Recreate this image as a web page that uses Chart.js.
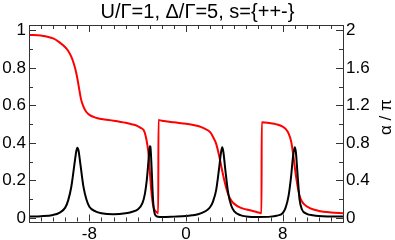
<!DOCTYPE html>
<html><head><meta charset="utf-8">
<script src="https://cdn.jsdelivr.net/npm/chart.js@4"></script>
<style>html,body{margin:0;padding:0;background:#fff}canvas{display:block}</style>
</head><body>
<canvas id="c" width="395" height="240"></canvas>
<script>
const titleText = 'U/Γ=1, Δ/Γ=5, s={++-}';
const rightAxisTitle = 'α / π';
const xTicks = [-8, 0, 8];
const yLeftTicks = [0, 0.2, 0.4, 0.6, 0.8, 1];
const yRightTicks = [0, 0.4, 0.8, 1.2, 1.6, 2];

// black curve (left axis)
const blackX = [-13,-12,-11,-10.5,-10,-9.75,-9.5,-9.25,-9.1,-9.0,-8.9,-8.75,-8.5,-8.25,-8,-7.5,-7,-6,-5,-4.5,-4,-3.6,-3.4,-3.25,-3.1,-3.0,-2.95,-2.85,-2.75,-2.65,-2.5,-2.3,-2,-1,0,0.5,1,1.5,1.75,2,2.25,2.5,2.75,2.9,3.0,3.1,3.25,3.5,3.75,4,4.5,5,6,7,7.5,8,8.25,8.5,8.7,8.85,9.0,9.1,9.25,9.4,9.6,10,10.5,11,12,13];
const blackY = [0.007,0.009,0.016,0.027,0.055,0.095,0.165,0.28,0.35,0.375,0.36,0.29,0.17,0.1,0.06,0.035,0.025,0.02,0.025,0.032,0.045,0.08,0.13,0.2,0.31,0.383,0.38,0.27,0.12,0.04,0.012,0.006,0.005,0.007,0.01,0.014,0.02,0.032,0.042,0.058,0.09,0.15,0.27,0.35,0.377,0.35,0.26,0.13,0.065,0.035,0.015,0.008,0.005,0.007,0.012,0.025,0.055,0.12,0.22,0.32,0.377,0.35,0.22,0.1,0.045,0.022,0.014,0.01,0.008,0.007];

// red curve (right axis, alpha/pi)
const redX = [-13,-12,-11,-10.5,-10,-9.75,-9.5,-9.3,-9.15,-9.0,-8.85,-8.7,-8.5,-8.25,-8,-7.5,-7,-6,-5,-4.5,-4,-3.75,-3.5,-3.35,-3.2,-3.1,-3.0,-2.9,-2.8,-2.7,-2.55,-2.4,-2.30,-2.28,-2,-1,0,0.5,1,1.5,2,2.25,2.5,2.75,3.0,3.25,3.5,3.75,4,4.5,5,5.5,6.0,6.25,6.27,7,7.5,8,8.25,8.5,8.7,8.85,9.0,9.15,9.35,9.5,9.75,10.25,11,12,13];
const redY = [1.952,1.945,1.915,1.875,1.82,1.78,1.72,1.65,1.58,1.49,1.38,1.27,1.19,1.13,1.1,1.07,1.055,1.037,1.015,1.0,0.98,0.96,0.935,0.88,0.78,0.68,0.5,0.33,0.2,0.12,0.075,0.06,0.05,1.045,1.037,1.02,1.005,0.995,0.98,0.955,0.915,0.86,0.79,0.66,0.5,0.36,0.25,0.185,0.15,0.11,0.09,0.075,0.058,0.05,1.02,1.01,0.998,0.975,0.95,0.9,0.82,0.7,0.55,0.41,0.265,0.2,0.15,0.105,0.075,0.058,0.05];

const FONT = 'Liberation Sans, Arial, Helvetica, sans-serif';

const frameTicks = {
  id: 'frameTicks',
  afterDatasetsDraw(chart) {
    const ctx = chart.ctx, a = chart.chartArea;
    const xs = chart.scales.x, yl = chart.scales.y, yr = chart.scales.y2;
    ctx.save();
    ctx.strokeStyle = '#333';
    ctx.lineWidth = 1;
    ctx.strokeRect(Math.round(a.left) + 0.5, Math.round(a.top) + 0.5, Math.round(a.right - a.left), Math.round(a.bottom - a.top));
    ctx.beginPath();
    for (let v = -13; v <= 13; v++) {
      const px = Math.round(xs.getPixelForValue(v)) + 0.5;
      const len = xTicks.includes(v) ? 7 : 4;
      ctx.moveTo(px, a.bottom); ctx.lineTo(px, a.bottom - len);
      ctx.moveTo(px, a.top); ctx.lineTo(px, a.top + len);
    }
    for (let i = 0; i <= 10; i++) {
      const py = Math.round(yl.getPixelForValue(i / 10)) + 0.5;
      const len = i % 2 === 0 ? 7 : 4;
      ctx.moveTo(a.left, py); ctx.lineTo(a.left + len, py);
      const pr = Math.round(yr.getPixelForValue(i * 0.2)) + 0.5;
      ctx.moveTo(a.right, pr); ctx.lineTo(a.right - len, pr);
    }
    ctx.stroke();
    // right axis title, reading bottom to top
    ctx.fillStyle = '#000';
    ctx.font = '17px ' + FONT;
    ctx.textAlign = 'center';
    ctx.textBaseline = 'middle';
    ctx.translate(386, (a.top + a.bottom) / 2 - 6);
    ctx.rotate(-Math.PI / 2);
    ctx.fillText(rightAxisTitle, 0, 0);
    ctx.restore();
  }
};

const fmt = v => String(Math.round(v * 100) / 100);

new Chart(document.getElementById('c'), {
  type: 'line',
  data: {
    datasets: [
      { data: blackX.map((x, i) => ({ x, y: blackY[i] })), yAxisID: 'y', borderColor: '#000', borderWidth: 2, pointRadius: 0, cubicInterpolationMode: 'monotone', fill: false },
      { data: redX.map((x, i) => ({ x, y: redY[i] })), yAxisID: 'y2', borderColor: '#ff0000', borderWidth: 2, pointRadius: 0, cubicInterpolationMode: 'monotone', fill: false }
    ]
  },
  options: {
    responsive: false,
    animation: false,
    events: [],
    layout: { padding: 0 },
    plugins: {
      legend: { display: false },
      tooltip: { enabled: false },
      title: { display: true, text: titleText, color: '#000', font: { family: FONT, size: 20, weight: 'normal', lineHeight: 1.2 }, padding: { top: 0, bottom: 1 } }
    },
    scales: {
      x: {
        type: 'linear', position: 'bottom', min: -13, max: 13,
        grid: { display: false, drawTicks: false, tickLength: 0 }, border: { display: false },
        afterBuildTicks: s => { s.ticks = xTicks.map(v => ({ value: v })); },
        afterFit: s => { s.height = 18.5; },
        ticks: { color: '#000', font: { family: FONT, size: 17 }, padding: 3, maxRotation: 0, callback: v => fmt(v) }
      },
      y: {
        type: 'linear', position: 'left', min: -0.019, max: 1.029,
        grid: { display: false, drawTicks: false, tickLength: 0 }, border: { display: false },
        afterBuildTicks: s => { s.ticks = yLeftTicks.map(v => ({ value: v })); },
        afterFit: s => { s.width = 29; },
        ticks: { color: '#000', font: { family: FONT, size: 17 }, padding: 3, callback: v => fmt(v) }
      },
      y2: {
        type: 'linear', position: 'right', min: -0.038, max: 2.058,
        grid: { display: false, drawTicks: false, tickLength: 0 }, border: { display: false },
        afterBuildTicks: s => { s.ticks = yRightTicks.map(v => ({ value: v })); },
        afterFit: s => { s.width = 52; },
        ticks: { color: '#000', font: { family: FONT, size: 17 }, padding: 3, callback: v => fmt(v) }
      }
    }
  },
  plugins: [frameTicks]
});
</script>
</body></html>
